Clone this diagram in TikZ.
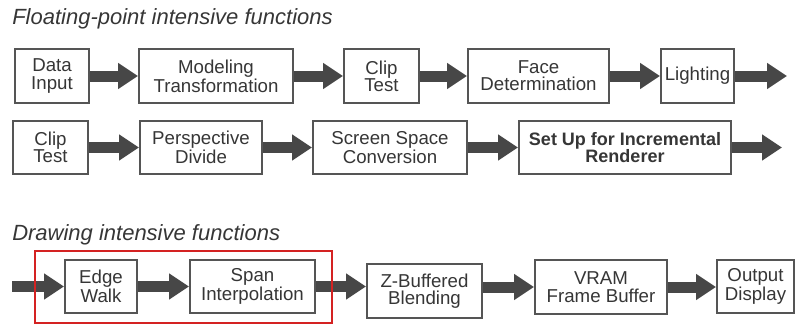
\documentclass[tikz,border=0pt]{standalone}
\usepackage{fontspec}
\setmainfont{Liberation Sans}
\usetikzlibrary{arrows.meta}
\definecolor{boxline}{HTML}{555555}
\definecolor{inkgray}{HTML}{363636}
\definecolor{arrowgray}{HTML}{474747}
\definecolor{framered}{HTML}{D42222}
\begin{document}
\begin{tikzpicture}[x=0.75pt,y=-0.75pt,
  stage/.style 2 args={draw=boxline, line width=1.5pt, fill=white,
    minimum width=#1*0.75pt, minimum height=#2*0.75pt, inner sep=0pt,
    align=center, text=inkgray, font=\fontsize{14}{13}\selectfont},
  flow/.style={draw=arrowgray, line width=8.25pt,
    -{Triangle[length=15pt,width=18.75pt]}},
  heading/.style={anchor=base west, inner sep=0pt, text=inkgray,
    font=\fontsize{16.5}{18}\selectfont\itshape},
  frame/.style={draw=framered, line width=1.6pt}]
\useasboundingbox (0,0) rectangle (795,325);

% section headings
\node[heading] (h1) at (12,24) {Floating-point intensive functions};
\node[heading] (h2) at (12,240) {Drawing intensive functions};

% first row: geometry stages
\node[stage={74}{54}]  (din)   at (52,76)    {Data\\Input};
\node[stage={154}{54}] (mod)   at (216,76)   {Modeling\\Transformation};
\node[stage={75}{54}]  (clipa) at (381.5,76) {Clip\\Test};
\node[stage={141}{54}] (face)  at (538.5,76) {Face\\Determination};
\node[stage={73}{54}]  (light) at (697.5,76) {Lighting};
\coordinate (outa) at (787,76);

\draw[flow] (din.east) -- (mod.west);
\draw[flow] (mod.east) -- (clipa.west);
\draw[flow] (clipa.east) -- (face.west);
\draw[flow] (face.east) -- (light.west);
\draw[flow] (light.east) -- (outa);

% second row: projection and setup
\node[stage={75}{53}]  (clipb)  at (50.5,147.5) {Clip\\Test};
\node[stage={122}{53}] (persp)  at (201,147.5)  {Perspective\\Divide};
\node[stage={154}{53}] (screen) at (390,147.5)  {Screen Space\\Conversion};
\node[stage={212}{53}, font=\fontsize{13.5}{13}\selectfont\bfseries]
                       (setup)  at (625,147.5)  {Set Up for Incremental\\Renderer};
\coordinate (outb) at (782,147.5);

\draw[flow] (clipb.east) -- (persp.west);
\draw[flow] (persp.east) -- (screen.west);
\draw[flow] (screen.east) -- (setup.west);
\draw[flow] (setup.east) -- (outb);

% third row: rasterisation stages
\coordinate (inc) at (12,286.5);
\node[stage={72}{53}]  (edge) at (101,286.5)   {Edge\\Walk};
\node[stage={125}{53}] (span) at (252.5,286.5) {Span\\Interpolation};
\node[stage={115}{54}] (zbuf) at (424.5,291)   {Z-Buffered\\Blending};
\node[stage={132}{54}] (vram) at (601,287)     {VRAM\\Frame Buffer};
\node[stage={77}{53}]  (disp) at (755.5,286.5) {Output\\Display};

\draw[flow] (inc) -- (edge.west);
\draw[flow] (edge.east) -- (span.west);
\draw[flow] (span.east) -- (span.east -| zbuf.west);
\draw[flow] (zbuf.east |- vram.west) -- (vram.west);
\draw[flow] (vram.east) -- (vram.east -| disp.west);

% highlight around the span stages
\draw[frame] (35,251) rectangle (332,323);
\end{tikzpicture}
\end{document}
